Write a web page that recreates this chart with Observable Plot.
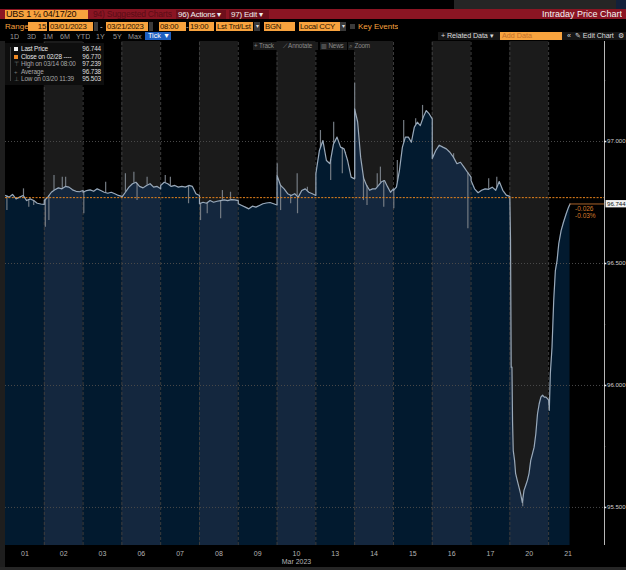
<!DOCTYPE html>
<html><head><meta charset="utf-8">
<script src="https://cdn.jsdelivr.net/npm/d3@7"></script>
<script src="https://cdn.jsdelivr.net/npm/@observablehq/plot@0.6"></script>
<style>
body{margin:0;background:#000;width:626px;height:570px;overflow:hidden;position:relative;font-family:"Liberation Sans Narrow","Arial Narrow","Liberation Sans",Arial,sans-serif;}
.a{position:absolute;white-space:nowrap;line-height:1;box-sizing:border-box;overflow:hidden;}
.ob{background:#f8a33e;color:#2a1400;font-size:7.8px;letter-spacing:-0.25px;height:9px;line-height:9px;padding:0 1px;}
.dd{background:#3a3a3a;color:#ddd;font-size:6px;height:9px;line-height:9px;text-align:center;}
.per{color:#9a9a9a;font-size:7.2px;top:33px;}
.btn{background:#1b1b1b;color:#8a8a8a;font-size:6.3px;letter-spacing:-0.15px;height:8px;line-height:8px;top:42px;padding:0 1px;}
.lg{font-size:6.4px;letter-spacing:-0.15px;left:0;height:7px;line-height:7px;overflow:visible;}
#chart{position:absolute;left:0;top:41px;}
</style></head><body>
<!-- top chrome -->
<div class="a" style="left:454px;top:0;width:162px;height:9px;background:#252525"></div>
<div class="a" style="left:616px;top:0;width:10px;height:9px;background:#13203a"></div>
<div class="a" style="left:0;top:9px;width:626px;height:10px;background:#8b1523"></div>
<div class="a" style="left:5px;top:10px;width:83px;height:9px;background:#f8a33e;color:#1a0a00;font-size:9px;letter-spacing:-0.2px;line-height:9px;padding-left:1px">UBS 1 ¼ 04/17/20</div>
<div class="a" style="left:93px;top:10px;height:9px;color:#5a0c16;font-size:8.5px;letter-spacing:-0.2px;line-height:9px">94) Suggested Charts</div>
<div class="a" style="left:176px;top:10px;width:50px;height:9px;background:#6e0f1b;color:#f0f0f0;font-size:8px;letter-spacing:-0.2px;line-height:9px;padding-left:2px">96) Actions ▾</div>
<div class="a" style="left:229px;top:10px;width:40px;height:9px;background:#6e0f1b;color:#f0f0f0;font-size:8px;letter-spacing:-0.2px;line-height:9px;padding-left:2px">97) Edit ▾</div>
<div class="a" style="right:4px;top:10px;height:9px;color:#f4f4f4;font-size:9px;line-height:9px">Intraday Price Chart</div>

<div class="a" style="left:5px;top:22px;color:#f8a33e;font-size:8px;line-height:9px">Range</div>
<div class="a ob" style="left:28px;top:22px;width:19px;text-align:right">15</div>
<div class="a ob" style="left:49px;top:22px;width:44px">03/01/2023</div>
<div class="a dd" style="left:94px;top:22px;width:4px"></div>
<div class="a" style="left:100px;top:22px;color:#ccc;font-size:8px;line-height:9px">-</div>
<div class="a ob" style="left:106px;top:22px;width:42px">03/21/2023</div>
<div class="a dd" style="left:149px;top:22px;width:4px"></div>
<div class="a ob" style="left:159px;top:22px;width:27px">08:00</div>
<div class="a" style="left:186px;top:22px;color:#ccc;font-size:8px;line-height:9px">-</div>
<div class="a ob" style="left:189px;top:22px;width:25px">19:00</div>
<div class="a ob" style="left:216px;top:22px;width:37px">Lst Trd/Lst</div>
<div class="a dd" style="left:254px;top:22px;width:6px">▾</div>
<div class="a ob" style="left:264px;top:22px;width:31px">BGN</div>
<div class="a ob" style="left:299px;top:22px;width:41px">Local CCY</div>
<div class="a dd" style="left:340px;top:22px;width:6px">▾</div>
<div class="a" style="left:350px;top:24px;width:5px;height:5px;background:#3a3a3a"></div>
<div class="a" style="left:358px;top:22px;color:#f8a33e;font-size:8px;line-height:9px">Key Events</div>

<div class="a per" style="left:10px">1D</div>
<div class="a per" style="left:27px">3D</div>
<div class="a per" style="left:43px">1M</div>
<div class="a per" style="left:60px">6M</div>
<div class="a per" style="left:76px">YTD</div>
<div class="a per" style="left:96px">1Y</div>
<div class="a per" style="left:113px">5Y</div>
<div class="a per" style="left:128px">Max</div>
<div class="a" style="left:145px;top:32px;width:26px;height:8px;background:#1e5fc0;color:#fff;font-size:7.2px;line-height:8px;padding-left:3px">Tick ▼</div>
<div class="a" style="left:438px;top:32px;width:188px;height:8px;background:#161616"></div>
<div class="a" style="left:441px;top:32px;color:#dcdcdc;font-size:7.2px;letter-spacing:-0.1px;line-height:8px">+ Related Data ▾</div>
<div class="a" style="left:500px;top:32px;width:62px;height:8px;background:#f8a33e;color:#c4702a;font-size:7.2px;line-height:8px;padding-left:2px">Add Data</div>
<div class="a" style="left:567px;top:32px;color:#dcdcdc;font-size:7.2px;line-height:8px">«</div>
<div class="a" style="left:575px;top:32px;color:#dcdcdc;font-size:7.2px;letter-spacing:-0.1px;line-height:8px">✎ Edit Chart</div>
<div class="a" style="left:618px;top:32px;color:#dcdcdc;font-size:7.2px;line-height:8px">⚙</div>

<div id="chart"></div>
<div class="a" style="left:0;top:41px;width:5px;height:526px;background:#1e1e1e"></div>
<div class="a" style="left:0;top:567px;width:626px;height:3px;background:#262626"></div>

<div class="a btn" style="left:253px;width:27px">+ Track</div>
<div class="a btn" style="left:282px;width:36px">⟋ Annotate</div>
<div class="a btn" style="left:320px;width:27px">▥ News</div>
<div class="a btn" style="left:348px;width:27px">⌕ Zoom</div>

<div id="legend" class="a" style="left:5px;top:43px;width:99px;height:42px;background:#0e0e0e;overflow:visible"></div>

<script>
// ---- data ----
const days = ["01","02","03","06","07","08","09","10","13","14","15","16","17","20","21"];
const axisMonth = "Mar 2023";
const yTicks = [95.5, 96.0, 96.5, 97.0];
// prices sampled evenly across each 08:00-19:00 session
const d01 = [96.779,96.772,96.783,96.765,96.772,96.779,96.758,96.765,96.758,96.747,96.744,96.742];
const d02 = [96.758,96.772,96.792,96.802,96.810,96.806,96.816,96.813,96.802,96.796,96.794,96.799];
const d03 = [96.792,96.799,96.802,96.796,96.806,96.799,96.792,96.788,96.792,96.786,96.779,96.775];
const d06 = [96.772,96.792,96.813,96.827,96.833,96.816,96.810,96.820,96.827,96.813,96.816,96.806];
const d07 = [96.820,96.833,96.827,96.816,96.820,96.813,96.816,96.813,96.820,96.816,96.786,96.779];
const d08 = [96.745,96.751,96.747,96.758,96.751,96.755,96.758,96.761,96.758,96.762,96.761,96.758];
const d09 = [96.745,96.738,96.731,96.724,96.735,96.731,96.738,96.745,96.748,96.750,96.745,96.740];
const d10 = [96.861,96.820,96.806,96.786,96.779,96.786,96.772,96.799,96.806,96.792,96.786,96.779];
const d13 = [96.868,96.963,97.004,96.922,96.909,96.990,97.018,96.977,96.970,96.922,96.854,96.847];
const d14 = [97.134,97.080,96.936,96.850,96.820,96.800,96.806,96.806,96.820,96.835,96.840,96.815,96.792,96.806];
const d15 = [96.800,96.813,96.881,96.977,97.018,97.018,96.997,97.059,97.079,97.065,97.100,97.127,97.113,97.093];
const d16 = [96.930,96.963,96.985,96.977,96.970,96.956,96.936,96.909,96.915,96.895,96.874,96.854];
const d17 = [96.840,96.806,96.790,96.800,96.806,96.804,96.813,96.800,96.836,96.800,96.780,96.775];
const d20Hours = [8.0,8.19,8.38,8.6,8.77,8.96,9.34,9.63,10.1,10.58,11.06,11.54,12.02,12.5,12.98,13.45,13.93,14.41,14.89,15.37,15.85,16.33,16.8,17.28,17.76,18.24,18.72,19.0];
const d20 = [96.772,96.600,96.075,96.075,95.850,95.734,95.693,95.640,95.611,95.583,95.556,95.520,95.570,95.590,95.611,95.640,95.693,95.720,95.747,95.802,95.884,95.925,95.952,95.960,95.952,95.952,95.945,95.940];
const d21Hours = [8.0,8.19,8.48,8.96,9.44,9.91,10.39,10.87,11.54,12.21,12.98,13.65,14.07];
const d21 = [95.940,95.898,96.048,96.157,96.348,96.471,96.512,96.581,96.635,96.669,96.704,96.731,96.744];
// tick extremes: [day index, hour, price]
const spikes = [[0,8.4,96.717],[0,13.1,96.806],[0,14.6,96.731],[0,16.0,96.738],[1,8.3,96.649],[1,9.3,96.676],[1,10.75,96.861],[1,13.1,96.854],[1,14.05,96.854],[2,8.2,96.704],[2,14.4,96.833],[3,9.0,96.868],[3,11.4,96.874],[3,12.3,96.758],[3,15.15,96.854],[4,9.3,96.861],[4,10.75,96.854],[4,15.9,96.745],[5,8.3,96.676],[5,10.2,96.704],[5,14.0,96.683],[5,14.5,96.799],[5,16.8,96.792],[7,8.05,96.909],[7,9.0,96.717],[7,11.85,96.745],[7,13.7,96.868],[7,13.8,96.704],[7,16.6,96.813],[8,9.3,97.045],[8,12.2,96.84],[8,13.05,97.079],[8,15.5,96.868],[8,16.4,96.956],[9,8.0,97.239],[9,10.5,96.758],[9,11.5,96.738],[9,14.4,96.868],[9,15.3,96.895],[9,16.25,96.731],[10,8.1,96.724],[10,9.1,96.922],[10,10.9,97.086],[10,14.3,97.093],[10,16.25,97.148],[11,14.05,96.95],[11,18.1,96.642],[12,13.0,96.847],[12,15.3,96.854],[13,11.65,95.503]];
const legendLabels = ["Last Price","Close on 02/28 ----","High on 03/14 08:00","Average","Low on 03/20 11:39"];
const legendValues = [96.744, 96.770, 97.239, 96.738, 95.503];
const closePrice = 96.770;

// ---- build ----
const xMax = 15.44, yMin = 95.344, yMax = 97.41;
const sessions = [d01,d02,d03,d06,d07,d08,d09,d10,d13,d14,d15,d16,d17];
const points = [];
sessions.forEach((arr,i)=>arr.forEach((p,k)=>points.push({day:i,t:i+k/(arr.length-1),p})));
d20Hours.forEach((h,k)=>points.push({day:13,t:13+(h-8)/11,p:d20[k]}));
d21Hours.forEach((h,k)=>points.push({day:14,t:14+(h-8)/11,p:d21[k]}));
function priceAt(t){
  for(let j=1;j<points.length;j++){
    const a=points[j-1],b=points[j];
    if(t>=a.t && t<=b.t){ if(b.t===a.t) return b.p; return a.p+(b.p-a.p)*(t-a.t)/(b.t-a.t); }
  }
  return points[points.length-1].p;
}
const spikeData = spikes.map(([d,h,v])=>{const t=d+(h-8)/11;return {t,v,base:priceAt(t)};});
const last = points[points.length-1];
const lastPrice = last.p;
const chg = lastPrice - closePrice;
const pct = chg/closePrice*100;
const bands = days.map((d,i)=>({i,x1:i,x2:i===days.length-1?xMax:i+1}));
const font = '"Liberation Sans Narrow","Arial Narrow","Liberation Sans",Arial,sans-serif';

const chart = Plot.plot({
  width:626, height:526,
  marginLeft:5, marginRight:22, marginTop:0, marginBottom:22,
  x:{domain:[0,xMax], axis:null},
  y:{domain:[yMin,yMax], axis:null},
  style:{background:"#000", fontFamily:font, fontSize:"7px"},
  marks:[
    Plot.rect(bands.filter(b=>b.i%2===1),{x1:"x1",x2:"x2",y1:yMin,y2:yMax,fill:"#1b1b1b"}),
    Plot.areaY(points.filter(d=>d.day%2===0),{x:"t",y1:yMin,y2:"p",z:"day",fill:"#021a2f"}),
    Plot.areaY(points.filter(d=>d.day%2===1),{x:"t",y1:yMin,y2:"p",z:"day",fill:"#14273e"}),
    Plot.ruleX(d3.range(1,days.length),{y1:yMin,y2:yMax,stroke:"#3d3d3d",strokeDasharray:"3,2"}),
    Plot.ruleY(yTicks,{x1:0,x2:xMax,stroke:"#4a4a4a",strokeDasharray:"1,2"}),
    Plot.ruleX(spikeData,{x:"t",y1:"base",y2:"v",stroke:"#747b83",strokeWidth:1.2}),
    Plot.line(points,{x:"t",y:"p",stroke:"#9aa9b9",strokeWidth:1.2}),
    Plot.ruleY([closePrice],{x1:0,x2:xMax,stroke:"#e8841c",strokeDasharray:"2,1.4",strokeWidth:1}),
    Plot.ruleY([lastPrice],{x1:last.t,x2:xMax,stroke:"#a8632a",strokeWidth:1}),
    Plot.ruleX([xMax],{y1:yMin,y2:yMax,stroke:"#b8b8b8",strokeWidth:1}),
    Plot.ruleY(yTicks,{x1:xMax,x2:xMax+0.06,stroke:"#e8e8e8",strokeWidth:1.5}),
    Plot.ruleY(yTicks.map(v=>v+0.25),{x1:xMax,x2:xMax+0.03,stroke:"#bbb"}),
    Plot.text(yTicks,{x:xMax,y:d=>d,text:d=>d.toFixed(3),dx:2.5,textAnchor:"start",fill:"#d0d0d0",fontSize:6.1}),
    Plot.rect([lastPrice],{x1:xMax+0.04,x2:xMax+1,y1:d=>d-0.016,y2:d=>d+0.014,fill:"#f2f2f2"}),
    Plot.text([lastPrice],{x:xMax,y:d=>d,text:d=>d.toFixed(3),dx:2.5,textAnchor:"start",fill:"#111",fontSize:6.1}),
    Plot.text([chg],{x:last.t,y:lastPrice,text:d=>d.toFixed(3),dx:5,dy:5,textAnchor:"start",fill:"#d47a2a",fontSize:6.5}),
    Plot.text([pct],{x:last.t,y:lastPrice,text:d=>d.toFixed(2)+"%",dx:5,dy:12,textAnchor:"start",fill:"#d47a2a",fontSize:6.5}),
    Plot.axisX(days.map((d,i)=>i+0.5),{tickFormat:t=>days[Math.floor(t)],tickSize:0,tickPadding:6,fill:"#b4b4b4",fontSize:7,label:null}),
    Plot.text([axisMonth],{x:(days.length-1)/2+0.5,frameAnchor:"bottom",dy:18,fill:"#b4b4b4",fontSize:7})
  ]
});
document.getElementById("chart").appendChild(chart);

// legend
const lg = document.getElementById("legend");
const icons = [
  '<span style="display:inline-block;width:4px;height:4px;background:#f4f4f4"></span>',
  '<span style="display:inline-block;width:4px;height:4px;background:#f08a24"></span>',
  '<span style="color:#777">⊤</span>','<span style="color:#777">+</span>','<span style="color:#777">⊥</span>'];
legendLabels.forEach((l,i)=>{
  const row=document.createElement("div");
  row.className="a lg";
  row.style.top=(3+i*7.6)+"px";
  row.style.width="99px";
  const c = i<2?"#e6e6e6":"#a8a8a8";
  row.innerHTML=`<span class="a" style="left:9px;top:0;font-size:6px;overflow:visible">${icons[i]}</span><span class="a" style="left:16px;top:0;color:${c};overflow:visible">${l}</span><span class="a" style="right:3px;top:0;color:#dedede;overflow:visible">${legendValues[i].toFixed(3)}</span>`;
  lg.appendChild(row);
});
const tree=document.createElement("div");
tree.className="a";tree.style.cssText="left:5px;top:4px;width:1px;height:34px;background:#444";
lg.appendChild(tree);
</script>
</body></html>
